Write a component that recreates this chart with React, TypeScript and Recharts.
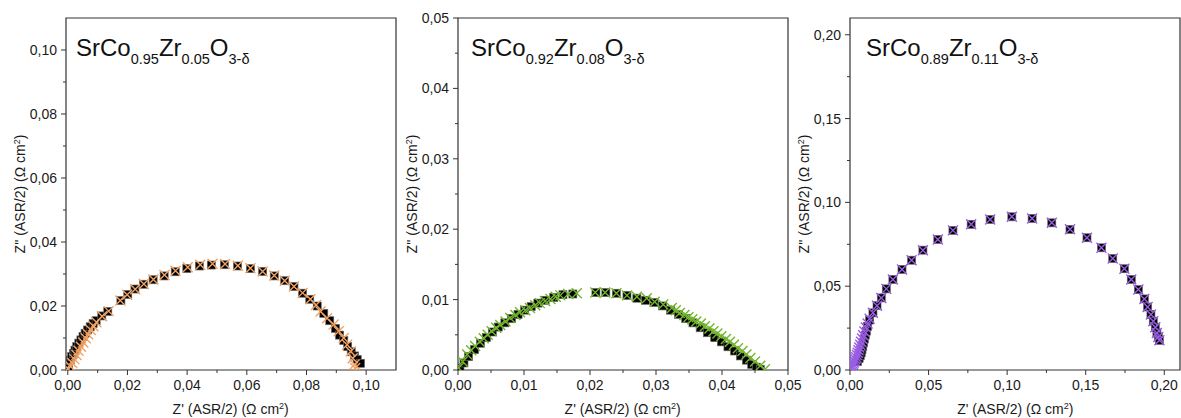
import { ScatterChart, Scatter, XAxis, YAxis, ReferenceArea } from 'recharts'

type Pair = [number, number]

// SrCo0.95Zr0.05O3-d
const p1Measured: Pair[] = [
  [0.0002, 0.0006], [0.0008, 0.0031], [0.0013, 0.0042], [0.0019, 0.0052], [0.0024, 0.0062], [0.0030, 0.0073],
  [0.0037, 0.0084], [0.0044, 0.0094], [0.0051, 0.0105], [0.0058, 0.0115], [0.0066, 0.0125], [0.0075, 0.0135],
  [0.0085, 0.0145], [0.0095, 0.0154], [0.0114, 0.0169], [0.0134, 0.0183], [0.0178, 0.0217], [0.0201, 0.0236],
  [0.0225, 0.0253], [0.0254, 0.0268], [0.0286, 0.0282], [0.0323, 0.0294], [0.0360, 0.0307], [0.0399, 0.0317],
  [0.0441, 0.0325], [0.0481, 0.0328], [0.0525, 0.0329], [0.0569, 0.0325], [0.0612, 0.0317], [0.0653, 0.0308],
  [0.0692, 0.0294], [0.0727, 0.0279], [0.0758, 0.0261], [0.0787, 0.0240], [0.0811, 0.0221], [0.0836, 0.0200],
  [0.0858, 0.0177], [0.0878, 0.0154], [0.0897, 0.0130], [0.0911, 0.0109], [0.0925, 0.0092], [0.0938, 0.0073],
  [0.0950, 0.0057], [0.0961, 0.0044], [0.0970, 0.0033], [0.0981, 0.0021],
]
const p1Fit: Pair[] = [
  [0.0002, 0.0003], [0.0008, 0.0012], [0.0015, 0.0022], [0.0022, 0.0034], [0.0029, 0.0047], [0.0036, 0.0060],
  [0.0044, 0.0073], [0.0052, 0.0086], [0.0060, 0.0099], [0.0068, 0.0112], [0.0077, 0.0125], [0.0086, 0.0137],
  [0.0096, 0.0149], [0.0115, 0.0168], [0.0137, 0.0184], [0.0176, 0.0217], [0.0199, 0.0235], [0.0226, 0.0252],
  [0.0255, 0.0269], [0.0287, 0.0283], [0.0324, 0.0297], [0.0361, 0.0310], [0.0402, 0.0321], [0.0444, 0.0329],
  [0.0485, 0.0332], [0.0527, 0.0331], [0.0570, 0.0326], [0.0612, 0.0318], [0.0653, 0.0308], [0.0692, 0.0295],
  [0.0727, 0.0279], [0.0758, 0.0261], [0.0787, 0.0241], [0.0813, 0.0221], [0.0832, 0.0203], [0.0847, 0.0183],
  [0.0869, 0.0162], [0.0891, 0.0142], [0.0908, 0.0121], [0.0925, 0.0100], [0.0936, 0.0079], [0.0948, 0.0058],
  [0.0955, 0.0037], [0.0961, 0.0017], [0.0963, 0.0006],
]

// SrCo0.92Zr0.08O3-d
const p2Measured: Pair[] = [
  [0.0003, 0.0003], [0.0009, 0.0010], [0.0016, 0.0019], [0.0025, 0.0029], [0.0034, 0.0038], [0.0043, 0.0046],
  [0.0052, 0.0054], [0.0061, 0.0061], [0.0071, 0.0067], [0.0081, 0.0073], [0.0091, 0.0079], [0.0101, 0.0085],
  [0.0111, 0.0090], [0.0121, 0.0095], [0.0132, 0.0099], [0.0145, 0.0103], [0.0159, 0.0107], [0.0174, 0.0108],
  [0.0209, 0.0110], [0.0224, 0.0110], [0.0240, 0.0109], [0.0256, 0.0106], [0.0271, 0.0102], [0.0284, 0.0099],
  [0.0297, 0.0096], [0.0310, 0.0091], [0.0322, 0.0085], [0.0334, 0.0079], [0.0345, 0.0073], [0.0356, 0.0067],
  [0.0367, 0.0060], [0.0378, 0.0053], [0.0389, 0.0046], [0.0399, 0.0040], [0.0409, 0.0033], [0.0419, 0.0027],
  [0.0428, 0.0020], [0.0437, 0.0014], [0.0445, 0.0008], [0.0452, 0.0004], [0.0458, 0.0001],
]
const p2Fit: Pair[] = [
  [0.0001, 0.0003], [0.0007, 0.0012], [0.0014, 0.0022], [0.0020, 0.0028], [0.0026, 0.0034], [0.0033, 0.0040],
  [0.0039, 0.0045], [0.0045, 0.0050], [0.0051, 0.0055], [0.0058, 0.0060], [0.0064, 0.0064], [0.0072, 0.0069],
  [0.0079, 0.0074], [0.0087, 0.0078], [0.0094, 0.0082], [0.0102, 0.0085], [0.0109, 0.0088], [0.0117, 0.0092],
  [0.0124, 0.0095], [0.0132, 0.0098], [0.0140, 0.0101], [0.0148, 0.0104], [0.0155, 0.0106], [0.0167, 0.0108],
  [0.0180, 0.0109], [0.0208, 0.0110], [0.0223, 0.0110], [0.0240, 0.0109], [0.0256, 0.0106], [0.0271, 0.0104],
  [0.0286, 0.0102], [0.0298, 0.0097], [0.0311, 0.0093], [0.0324, 0.0088], [0.0330, 0.0085], [0.0336, 0.0081],
  [0.0343, 0.0078], [0.0349, 0.0075], [0.0355, 0.0072], [0.0361, 0.0069], [0.0368, 0.0066], [0.0374, 0.0062],
  [0.0381, 0.0059], [0.0387, 0.0055], [0.0393, 0.0052], [0.0399, 0.0048], [0.0406, 0.0044], [0.0412, 0.0040],
  [0.0418, 0.0036], [0.0424, 0.0031], [0.0431, 0.0027], [0.0437, 0.0022], [0.0443, 0.0017], [0.0450, 0.0012],
  [0.0458, 0.0006], [0.0465, 0.0001],
]

// SrCo0.89Zr0.11O3-d
const p3Measured: Pair[] = [
  [0.0048, 0.0050], [0.0058, 0.0068], [0.0065, 0.0085], [0.0071, 0.0102], [0.0076, 0.0120], [0.0081, 0.0140],
  [0.0086, 0.0162], [0.0091, 0.0185], [0.0097, 0.0208], [0.0104, 0.0232], [0.0112, 0.0260], [0.0125, 0.0298],
  [0.0146, 0.0341], [0.0172, 0.0384], [0.0199, 0.0430], [0.0231, 0.0484], [0.0273, 0.0540], [0.0331, 0.0600],
  [0.0392, 0.0655], [0.0464, 0.0715], [0.0559, 0.0779], [0.0655, 0.0833], [0.0771, 0.0869], [0.0892, 0.0898],
  [0.1030, 0.0914], [0.1159, 0.0904], [0.1284, 0.0878], [0.1400, 0.0839], [0.1508, 0.0789], [0.1600, 0.0729],
  [0.1672, 0.0665], [0.1746, 0.0604], [0.1790, 0.0540], [0.1835, 0.0480], [0.1873, 0.0424], [0.1894, 0.0376],
  [0.1915, 0.0331], [0.1930, 0.0291], [0.1943, 0.0255], [0.1953, 0.0221], [0.1962, 0.0197], [0.1969, 0.0177],
]
const p3Fit: Pair[] = [
  [0.0003, 0.0004], [0.0006, 0.0012], [0.0010, 0.0020], [0.0014, 0.0028], [0.0019, 0.0036], [0.0024, 0.0044],
  [0.0029, 0.0053], [0.0034, 0.0064], [0.0039, 0.0076], [0.0044, 0.0089], [0.0049, 0.0103], [0.0054, 0.0118],
  [0.0059, 0.0134], [0.0065, 0.0151], [0.0071, 0.0169], [0.0077, 0.0188], [0.0084, 0.0208], [0.0092, 0.0230],
  [0.0101, 0.0253], [0.0112, 0.0278], [0.0125, 0.0306], [0.0146, 0.0341], [0.0172, 0.0384], [0.0199, 0.0430],
  [0.0231, 0.0484], [0.0273, 0.0540], [0.0331, 0.0600], [0.0392, 0.0655], [0.0464, 0.0715], [0.0559, 0.0779],
  [0.0655, 0.0833], [0.0771, 0.0869], [0.0892, 0.0898], [0.1030, 0.0914], [0.1159, 0.0904], [0.1284, 0.0878],
  [0.1400, 0.0839], [0.1508, 0.0789], [0.1600, 0.0729], [0.1672, 0.0665], [0.1746, 0.0604], [0.1790, 0.0540],
  [0.1835, 0.0480], [0.1873, 0.0424], [0.1894, 0.0376], [0.1915, 0.0331], [0.1930, 0.0291], [0.1943, 0.0255],
  [0.1953, 0.0221], [0.1962, 0.0197], [0.1969, 0.0177],
]

const p1Major = [0, 0.02, 0.04, 0.06, 0.08, 0.1]
const p1Minor = [0.01, 0.03, 0.05, 0.07, 0.09]
const p2Major = [0, 0.01, 0.02, 0.03, 0.04, 0.05]
const p2Minor = [0.005, 0.015, 0.025, 0.035, 0.045]
const p3Major = [0, 0.05, 0.1, 0.15, 0.2]
const p3Minor = [0.025, 0.075, 0.125, 0.175]

const FONT = 'Arial, "Liberation Sans", Helvetica, sans-serif'
const INK = '#1a1a1a'
const AXIS = '#333'
const PLOT_W = 330

const fmt = (v: number) => v.toFixed(2).replace('.', ',')
const toPts = (arr: Pair[]) => arr.map(([x, y]) => ({ x, y }))
const isIn = (list: number[], v: number) => list.some(m => Math.abs(m - v) < 1e-9)

const xTick = (major: number[]) => (p: any) => {
  const big = isIn(major, p.payload.value)
  return (
    <g>
      <line x1={p.x} x2={p.x} y1={p.y} y2={p.y + (big ? 5 : 3)} stroke={AXIS} />
      {big && (
        <text x={p.x} y={p.y + 20} textAnchor="middle" fontSize={14} fontFamily={FONT} fill={INK}>
          {fmt(p.payload.value)}
        </text>
      )}
    </g>
  )
}

const yTick = (major: number[]) => (p: any) => {
  const big = isIn(major, p.payload.value)
  return (
    <g>
      <line x1={p.x} x2={p.x - (big ? 5 : 3)} y1={p.y} y2={p.y} stroke={AXIS} />
      {big && (
        <text x={p.x - 9} y={p.y + 5} textAnchor="end" fontSize={14} fontFamily={FONT} fill={INK}>
          {fmt(p.payload.value)}
        </text>
      )}
    </g>
  )
}

const Square = (p: any) => (
  <rect x={p.cx - 4} y={p.cy - 4} width={8} height={8} fill="#000" stroke="#666" strokeWidth={0.7} />
)

const cross = (color: string) => (p: any) => (
  <path
    d={`M${p.cx - 5},${p.cy - 5}L${p.cx + 5},${p.cy + 5}M${p.cx - 5},${p.cy + 5}L${p.cx + 5},${p.cy - 5}`}
    stroke={color}
    strokeWidth={1.4}
    fill="none"
  />
)

const Sup2 = () => <span style={{ fontSize: 9, position: 'relative', top: -5 }}>2</span>

interface PanelProps {
  plotLeft: number
  titleLeft: number
  xDomain: [number, number]
  yDomain: [number, number]
  major: number[]
  minor: number[]
  measured: Pair[]
  fit: Pair[]
  color: string
  co: string
  zr: string
}

function Panel({ plotLeft, titleLeft, xDomain, yDomain, major, minor, measured, fit, color, co, zr }: PanelProps) {
  const ticks = [...major, ...minor].sort((a, b) => a - b)
  const sub = { fontSize: 14.5, position: 'relative' as const, top: 8 }
  return (
    <>
      <div style={{ position: 'absolute', left: plotLeft - 66, top: 0 }}>
        <ScatterChart width={66 + PLOT_W + 24} height={418} margin={{ top: 18, right: 24, bottom: 0, left: 0 }}>
          <XAxis
            type="number"
            dataKey="x"
            domain={xDomain}
            ticks={ticks}
            interval={0}
            tickSize={0}
            tickMargin={0}
            tickLine={false}
            axisLine={false}
            height={48}
            allowDataOverflow
            tick={xTick(major)}
          />
          <YAxis
            type="number"
            dataKey="y"
            domain={yDomain}
            ticks={ticks}
            interval={0}
            tickSize={0}
            tickMargin={0}
            tickLine={false}
            axisLine={false}
            width={66}
            allowDataOverflow
            tick={yTick(major)}
          />
          <ReferenceArea
            x1={xDomain[0]}
            x2={xDomain[1]}
            y1={yDomain[0]}
            y2={yDomain[1]}
            fill="none"
            stroke={AXIS}
            strokeWidth={1.2}
            ifOverflow="visible"
          />
          <Scatter data={toPts(measured)} shape={Square} isAnimationActive={false} />
          <Scatter data={toPts(fit)} shape={cross(color)} isAnimationActive={false} />
        </ScatterChart>
      </div>
      <div style={{ position: 'absolute', left: titleLeft, top: 36, fontSize: 24, lineHeight: 1, color: '#111', whiteSpace: 'nowrap' }}>
        SrCo<span style={sub}>{co}</span>Zr<span style={sub}>{zr}</span>O<span style={sub}>3-δ</span>
      </div>
      <div
        style={{
          position: 'absolute', left: plotLeft + PLOT_W / 2, top: 402, transform: 'translateX(-50%)',
          fontSize: 14, lineHeight: 1, color: INK, whiteSpace: 'nowrap',
        }}
      >
        Z' (ASR/2) (Ω cm<Sup2 />)
      </div>
      <div
        style={{
          position: 'absolute', left: plotLeft - 46, top: 194, transform: 'translate(-50%, -50%) rotate(-90deg)',
          fontSize: 14, lineHeight: 1, color: INK, whiteSpace: 'nowrap',
        }}
      >
        Z'' (ASR/2) (Ω cm<Sup2 />)
      </div>
    </>
  )
}

export default function App() {
  return (
    <div
      style={{
        position: 'absolute', left: 0, top: 0, width: 1181, height: 418, overflow: 'hidden',
        background: '#fff', fontFamily: FONT,
      }}
    >
      <Panel plotLeft={65.7} titleLeft={76} xDomain={[-0.0006, 0.11]} yDomain={[0, 0.11]} major={p1Major} minor={p1Minor}
        measured={p1Measured} fit={p1Fit} color="#f4a261" co="0.95" zr="0.05" />
      <Panel plotLeft={457.7} titleLeft={471} xDomain={[0, 0.05]} yDomain={[0, 0.05]} major={p2Major} minor={p2Minor}
        measured={p2Measured} fit={p2Fit} color="#72b62c" co="0.92" zr="0.08" />
      <Panel plotLeft={850.3} titleLeft={866} xDomain={[0, 0.21]} yDomain={[0, 0.21]} major={p3Major} minor={p3Minor}
        measured={p3Measured} fit={p3Fit} color="#9b5de5" co="0.89" zr="0.11" />
    </div>
  )
}
